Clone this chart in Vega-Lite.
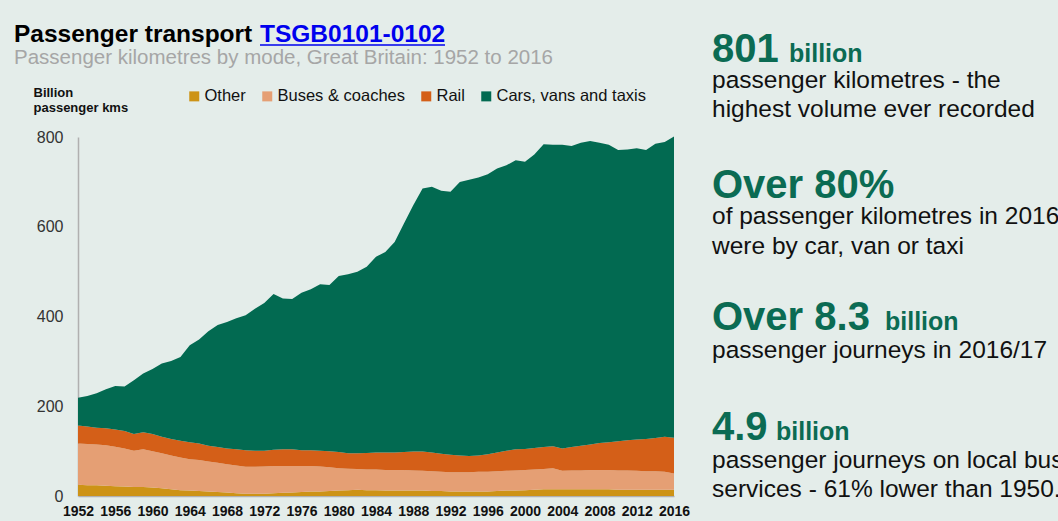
{
  "$schema": "https://vega.github.io/schema/vega-lite/v6.json",
  "width": 596,
  "height": 359,
  "autosize": {"type": "none"},
  "padding": {"left": 78, "top": 137, "right": 384, "bottom": 25},
  "background": "#e4edea",
  "config": {"view": {"stroke": null}, "font": "Liberation Sans"},
  "layer": [
    {
      "data": {"values": [
        {"year":1952,"Other":25,"Buses & coaches":92,"Rail":40,"Cars, vans and taxis":62},
        {"year":1953,"Other":24,"Buses & coaches":92,"Rail":39,"Cars, vans and taxis":68},
        {"year":1954,"Other":24,"Buses & coaches":91,"Rail":37,"Cars, vans and taxis":77},
        {"year":1955,"Other":23,"Buses & coaches":90,"Rail":38,"Cars, vans and taxis":87},
        {"year":1956,"Other":22,"Buses & coaches":88,"Rail":38,"Cars, vans and taxis":97},
        {"year":1957,"Other":21,"Buses & coaches":85,"Rail":39,"Cars, vans and taxis":99},
        {"year":1958,"Other":20,"Buses & coaches":81,"Rail":37,"Cars, vans and taxis":120},
        {"year":1959,"Other":20,"Buses & coaches":84,"Rail":38,"Cars, vans and taxis":131},
        {"year":1960,"Other":19,"Buses & coaches":81,"Rail":38,"Cars, vans and taxis":145},
        {"year":1961,"Other":17,"Buses & coaches":78,"Rail":37,"Cars, vans and taxis":163},
        {"year":1962,"Other":15,"Buses & coaches":75,"Rail":37,"Cars, vans and taxis":174},
        {"year":1963,"Other":13,"Buses & coaches":73,"Rail":37,"Cars, vans and taxis":187},
        {"year":1964,"Other":12,"Buses & coaches":70,"Rail":38,"Cars, vans and taxis":216},
        {"year":1965,"Other":11,"Buses & coaches":69,"Rail":37,"Cars, vans and taxis":232},
        {"year":1966,"Other":10,"Buses & coaches":67,"Rail":35,"Cars, vans and taxis":255},
        {"year":1967,"Other":9,"Buses & coaches":65,"Rail":35,"Cars, vans and taxis":272},
        {"year":1968,"Other":8,"Buses & coaches":63,"Rail":35,"Cars, vans and taxis":282},
        {"year":1969,"Other":6,"Buses & coaches":62,"Rail":36,"Cars, vans and taxis":292},
        {"year":1970,"Other":5,"Buses & coaches":60,"Rail":37,"Cars, vans and taxis":301},
        {"year":1971,"Other":5,"Buses & coaches":60,"Rail":36,"Cars, vans and taxis":316},
        {"year":1972,"Other":5,"Buses & coaches":61,"Rail":35,"Cars, vans and taxis":329},
        {"year":1973,"Other":6,"Buses & coaches":61,"Rail":36,"Cars, vans and taxis":347},
        {"year":1974,"Other":7,"Buses & coaches":60,"Rail":37,"Cars, vans and taxis":336},
        {"year":1975,"Other":8,"Buses & coaches":59,"Rail":37,"Cars, vans and taxis":335},
        {"year":1976,"Other":9,"Buses & coaches":58,"Rail":35,"Cars, vans and taxis":351},
        {"year":1977,"Other":10,"Buses & coaches":57,"Rail":35,"Cars, vans and taxis":359},
        {"year":1978,"Other":10,"Buses & coaches":56,"Rail":35,"Cars, vans and taxis":371},
        {"year":1979,"Other":11,"Buses & coaches":53,"Rail":36,"Cars, vans and taxis":370},
        {"year":1980,"Other":12,"Buses & coaches":50,"Rail":36,"Cars, vans and taxis":392},
        {"year":1981,"Other":13,"Buses & coaches":48,"Rail":34,"Cars, vans and taxis":399},
        {"year":1982,"Other":14,"Buses & coaches":46,"Rail":35,"Cars, vans and taxis":405},
        {"year":1983,"Other":13,"Buses & coaches":46,"Rail":37,"Cars, vans and taxis":415},
        {"year":1984,"Other":13,"Buses & coaches":46,"Rail":38,"Cars, vans and taxis":436},
        {"year":1985,"Other":12,"Buses & coaches":46,"Rail":39,"Cars, vans and taxis":447},
        {"year":1986,"Other":12,"Buses & coaches":46,"Rail":39,"Cars, vans and taxis":469},
        {"year":1987,"Other":12,"Buses & coaches":46,"Rail":40,"Cars, vans and taxis":509},
        {"year":1988,"Other":12,"Buses & coaches":45,"Rail":42,"Cars, vans and taxis":549},
        {"year":1989,"Other":12,"Buses & coaches":44,"Rail":43,"Cars, vans and taxis":586},
        {"year":1990,"Other":11,"Buses & coaches":44,"Rail":42,"Cars, vans and taxis":592},
        {"year":1991,"Other":11,"Buses & coaches":43,"Rail":40,"Cars, vans and taxis":586},
        {"year":1992,"Other":10,"Buses & coaches":43,"Rail":39,"Cars, vans and taxis":586},
        {"year":1993,"Other":10,"Buses & coaches":43,"Rail":37,"Cars, vans and taxis":610},
        {"year":1994,"Other":10,"Buses & coaches":43,"Rail":36,"Cars, vans and taxis":616},
        {"year":1995,"Other":10,"Buses & coaches":44,"Rail":36,"Cars, vans and taxis":620},
        {"year":1996,"Other":10,"Buses & coaches":44,"Rail":39,"Cars, vans and taxis":624},
        {"year":1997,"Other":11,"Buses & coaches":44,"Rail":42,"Cars, vans and taxis":633},
        {"year":1998,"Other":12,"Buses & coaches":44,"Rail":45,"Cars, vans and taxis":636},
        {"year":1999,"Other":12,"Buses & coaches":45,"Rail":47,"Cars, vans and taxis":644},
        {"year":2000,"Other":13,"Buses & coaches":45,"Rail":47,"Cars, vans and taxis":640},
        {"year":2001,"Other":14,"Buses & coaches":45,"Rail":48,"Cars, vans and taxis":654},
        {"year":2002,"Other":15,"Buses & coaches":45,"Rail":49,"Cars, vans and taxis":675},
        {"year":2003,"Other":15,"Buses & coaches":47,"Rail":49,"Cars, vans and taxis":672},
        {"year":2004,"Other":15,"Buses & coaches":41,"Rail":50,"Cars, vans and taxis":677},
        {"year":2005,"Other":15,"Buses & coaches":42,"Rail":52,"Cars, vans and taxis":671},
        {"year":2006,"Other":15,"Buses & coaches":42,"Rail":55,"Cars, vans and taxis":675},
        {"year":2007,"Other":15,"Buses & coaches":43,"Rail":57,"Cars, vans and taxis":676},
        {"year":2008,"Other":15,"Buses & coaches":43,"Rail":60,"Cars, vans and taxis":669},
        {"year":2009,"Other":15,"Buses & coaches":43,"Rail":62,"Cars, vans and taxis":663},
        {"year":2010,"Other":14,"Buses & coaches":43,"Rail":65,"Cars, vans and taxis":649},
        {"year":2011,"Other":14,"Buses & coaches":43,"Rail":67,"Cars, vans and taxis":648},
        {"year":2012,"Other":14,"Buses & coaches":42,"Rail":70,"Cars, vans and taxis":649},
        {"year":2013,"Other":14,"Buses & coaches":41,"Rail":72,"Cars, vans and taxis":644},
        {"year":2014,"Other":14,"Buses & coaches":41,"Rail":74,"Cars, vans and taxis":656},
        {"year":2015,"Other":14,"Buses & coaches":40,"Rail":78,"Cars, vans and taxis":657},
        {"year":2016,"Other":14,"Buses & coaches":36,"Rail":80,"Cars, vans and taxis":671}
      ]},
      "transform": [
        {"fold": ["Other", "Buses & coaches", "Rail", "Cars, vans and taxis"], "as": ["mode", "value"]},
        {"calculate": "indexof(['Other','Buses & coaches','Rail','Cars, vans and taxis'], datum.mode)", "as": "ord"}
      ],
      "mark": {"type": "area", "interpolate": "linear"},
      "encoding": {
        "x": {
          "field": "year", "type": "quantitative",
          "scale": {"domain": [1952, 2016], "nice": false, "zero": false},
          "axis": {
            "values": [1952,1956,1960,1964,1968,1972,1976,1980,1984,1988,1992,1996,2000,2004,2008,2012,2016],
            "format": "d", "title": null, "grid": false, "ticks": false, "tickSize": 0,
            "labelFont": "Liberation Sans Narrow, Liberation Sans", "labelFontWeight": "bold", "labelFontSize": 14,
            "labelColor": "#111111", "labelPadding": 8, "labelFlush": false, "labelOverlap": false,
            "domainColor": "#b0b0b0", "domainWidth": 1.5
          }
        },
        "y": {
          "field": "value", "type": "quantitative", "stack": "zero",
          "scale": {"domain": [0, 800], "nice": false},
          "axis": {
            "values": [0, 200, 400, 600, 800], "grid": false, "ticks": false, "tickSize": 0,
            "labelFontSize": 16, "labelColor": "#333333", "labelPadding": 15,
            "domainColor": "#b0b0b0", "domainWidth": 1.5,
            "title": ["Billion", "passenger kms"], "titleAngle": 0, "titleAlign": "left",
            "titleBaseline": "alphabetic", "titleX": -45, "titleY": -41,
            "titleFontSize": 13, "titleFontWeight": "bold", "titleColor": "#111111", "titleLineHeight": 15
          }
        },
        "color": {
          "field": "mode", "type": "nominal",
          "scale": {
            "domain": ["Other", "Buses & coaches", "Rail", "Cars, vans and taxis"],
            "range": ["#cd9316", "#e59f74", "#d45f18", "#026a51"]
          },
          "legend": {
            "title": null, "orient": "none", "direction": "horizontal",
            "legendX": 108, "legendY": -49, "padding": 0,
            "symbolType": "square", "symbolSize": 100, "symbolStrokeWidth": 0,
            "labelFontSize": 16.5, "labelColor": "#111111", "labelOffset": 2, "columnPadding": 13
          }
        },
        "order": {"field": "ord", "type": "quantitative"}
      }
    },
    {
      "data": {"values": [{}]},
      "mark": {"type": "text", "align": "left", "baseline": "alphabetic", "fontSize": 24.5, "fontWeight": "bold", "color": "#000000"},
      "encoding": {"x": {"value": -64}, "y": {"value": -95}, "text": {"value": "Passenger transport"}}
    },
    {
      "data": {"values": [{}]},
      "mark": {"type": "text", "align": "left", "baseline": "alphabetic", "fontSize": 24.5, "fontWeight": "bold", "color": "#0000ee"},
      "encoding": {"x": {"value": 182}, "y": {"value": -95}, "text": {"value": "TSGB0101-0102"}}
    },
    {
      "data": {"values": [{}]},
      "mark": {"type": "rule", "color": "#0000ee", "strokeWidth": 1.6},
      "encoding": {"x": {"value": 182}, "x2": {"value": 367}, "y": {"value": -92}}
    },
    {
      "data": {"values": [{}]},
      "mark": {"type": "text", "align": "left", "baseline": "alphabetic", "fontSize": 20.5, "color": "#a6a6a6"},
      "encoding": {"x": {"value": -64}, "y": {"value": -73}, "text": {"value": "Passenger kilometres by mode, Great Britain: 1952 to 2016"}}
    },
    {
      "data": {"values": [{}]},
      "mark": {"type": "text", "align": "left", "baseline": "alphabetic", "fontSize": 40, "fontWeight": "bold", "color": "#0b6b53"},
      "encoding": {"x": {"value": 634}, "y": {"value": -75}, "text": {"value": "801"}}
    },
    {
      "data": {"values": [{}]},
      "mark": {"type": "text", "align": "left", "baseline": "alphabetic", "fontSize": 25, "fontWeight": "bold", "color": "#0b6b53"},
      "encoding": {"x": {"value": 711}, "y": {"value": -75}, "text": {"value": "billion"}}
    },
    {
      "data": {"values": [{}]},
      "mark": {"type": "text", "align": "left", "baseline": "alphabetic", "fontSize": 24.5, "lineHeight": 29, "color": "#111111"},
      "encoding": {"x": {"value": 634}, "y": {"value": -49}, "text": {"value": ["passenger kilometres - the", "highest volume ever recorded"]}}
    },
    {
      "data": {"values": [{}]},
      "mark": {"type": "text", "align": "left", "baseline": "alphabetic", "fontSize": 40, "fontWeight": "bold", "color": "#0b6b53"},
      "encoding": {"x": {"value": 634}, "y": {"value": 61}, "text": {"value": "Over 80%"}}
    },
    {
      "data": {"values": [{}]},
      "mark": {"type": "text", "align": "left", "baseline": "alphabetic", "fontSize": 24.5, "lineHeight": 30, "color": "#111111"},
      "encoding": {"x": {"value": 634}, "y": {"value": 87}, "text": {"value": ["of passenger kilometres in 2016", "were by car, van or taxi"]}}
    },
    {
      "data": {"values": [{}]},
      "mark": {"type": "text", "align": "left", "baseline": "alphabetic", "fontSize": 40, "fontWeight": "bold", "color": "#0b6b53"},
      "encoding": {"x": {"value": 634}, "y": {"value": 193}, "text": {"value": "Over 8.3"}}
    },
    {
      "data": {"values": [{}]},
      "mark": {"type": "text", "align": "left", "baseline": "alphabetic", "fontSize": 25, "fontWeight": "bold", "color": "#0b6b53"},
      "encoding": {"x": {"value": 807}, "y": {"value": 193}, "text": {"value": "billion"}}
    },
    {
      "data": {"values": [{}]},
      "mark": {"type": "text", "align": "left", "baseline": "alphabetic", "fontSize": 24.5, "color": "#111111"},
      "encoding": {"x": {"value": 634}, "y": {"value": 221}, "text": {"value": "passenger journeys in 2016/17"}}
    },
    {
      "data": {"values": [{}]},
      "mark": {"type": "text", "align": "left", "baseline": "alphabetic", "fontSize": 40, "fontWeight": "bold", "color": "#0b6b53"},
      "encoding": {"x": {"value": 634}, "y": {"value": 303}, "text": {"value": "4.9"}}
    },
    {
      "data": {"values": [{}]},
      "mark": {"type": "text", "align": "left", "baseline": "alphabetic", "fontSize": 25, "fontWeight": "bold", "color": "#0b6b53"},
      "encoding": {"x": {"value": 698}, "y": {"value": 303}, "text": {"value": "billion"}}
    },
    {
      "data": {"values": [{}]},
      "mark": {"type": "text", "align": "left", "baseline": "alphabetic", "fontSize": 24.5, "lineHeight": 29, "color": "#111111"},
      "encoding": {"x": {"value": 634}, "y": {"value": 331}, "text": {"value": ["passenger journeys on local bus", "services - 61% lower than 1950."]}}
    }
  ]
}
